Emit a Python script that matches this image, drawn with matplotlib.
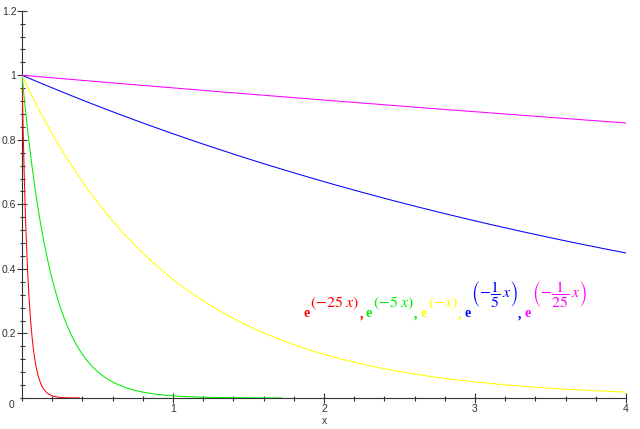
import numpy as np
import matplotlib
matplotlib.use("Agg")
import matplotlib.pyplot as plt
from matplotlib.ticker import MultipleLocator

# decay rates k in exp(-k x), and how far along x each curve shows up in the picture
rates = [25, 5, 1, 1 / 5, 1 / 25]
x_ends = [0.38, 1.72, 4, 4, 4]
colors = ["#ff0000", "#00ee00", "#ffff00", "#0000ff", "#ff00ff"]
exponents = [r"$(-25\;x)$", r"$(-5\;x)$", r"$(-x)$",
             r"$\left(-\dfrac{1}{5}\,x\right)$", r"$\left(-\dfrac{1}{25}\,x\right)$"]
is_frac = [False, False, False, True, True]

y_ticks = [0.2, 0.4, 0.6, 0.8, 1, 1.2]
y_tick_labels = ["0.2", "0.4", "0.6", "0.8", "1", "1.2"]
x_ticks = [1, 2, 3, 4]
x_tick_labels = ["1", "2", "3", "4"]

plt.rcParams["mathtext.fontset"] = "stix"
axis_col = "#333333"

fig = plt.figure(figsize=(6.4, 4.29), dpi=100)
ax = fig.add_axes([22 / 640, 31 / 429, 604 / 640, 387.3 / 429])

for k, xe, c in zip(rates, x_ends, colors):
    xs = np.linspace(0, xe, 400)
    ax.plot(xs, np.exp(-k * xs), color=c, lw=0.75, zorder=3)

ax.set_xlim(0, 4)
ax.set_ylim(0, 1.2)
for s in ["top", "right"]:
    ax.spines[s].set_visible(False)
for s in ["left", "bottom"]:
    ax.spines[s].set_position("zero")
    ax.spines[s].set_color(axis_col)
    ax.spines[s].set_linewidth(0.8)

ax.set_xticks(x_ticks)
ax.set_xticklabels(x_tick_labels)
ax.set_yticks(y_ticks)
ax.set_yticklabels(y_tick_labels)
ax.xaxis.set_minor_locator(MultipleLocator(0.2))
ax.yaxis.set_minor_locator(MultipleLocator(0.04))
ax.tick_params(which="major", direction="inout", length=7, width=0.8,
               color=axis_col, labelcolor=axis_col, labelsize=7.5, pad=0.5)
ax.tick_params(which="minor", direction="inout", length=3.6, width=0.8, color=axis_col)
for lab in ax.get_xticklabels() + ax.get_yticklabels():
    lab.set_family("Liberation Sans")

ax.set_xlabel("x", color=axis_col, fontsize=7.5, family="Liberation Sans", labelpad=2)
ax.annotate("0", xy=(0, 0), xytext=(-5.5, -5), textcoords="offset points",
            ha="right", va="center", color=axis_col, fontsize=7.5, family="Liberation Sans")

# legend-like label, laid out piece by piece in figure pixels
fig.canvas.draw()
r = fig.canvas.get_renderer()
x = 303
H = 429
for i, (c, ex, fr) in enumerate(zip(colors, exponents, is_frac)):
    t = ax.annotate("e", xy=(x, H - 317), xycoords="figure pixels", color=c,
                    fontsize=10, family="Liberation Serif", weight="bold", va="baseline")
    x = t.get_window_extent(r).x1 + 1
    if fr:
        t = ax.annotate(ex, xy=(x, H - 295), xycoords="figure pixels", color=c,
                        fontsize=11.5, va="center")
    else:
        t = ax.annotate(ex, xy=(x, H - 307), xycoords="figure pixels", color=c,
                        fontsize=11.5, va="baseline")
    x = t.get_window_extent(r).x1
    if i < len(colors) - 1:
        t = ax.annotate(",", xy=(x, H - 318), xycoords="figure pixels", color=c,
                        fontsize=10, family="Liberation Serif", weight="bold", va="baseline")
        x = t.get_window_extent(r).x1 + 3

fig.savefig("out.png", dpi=100)
